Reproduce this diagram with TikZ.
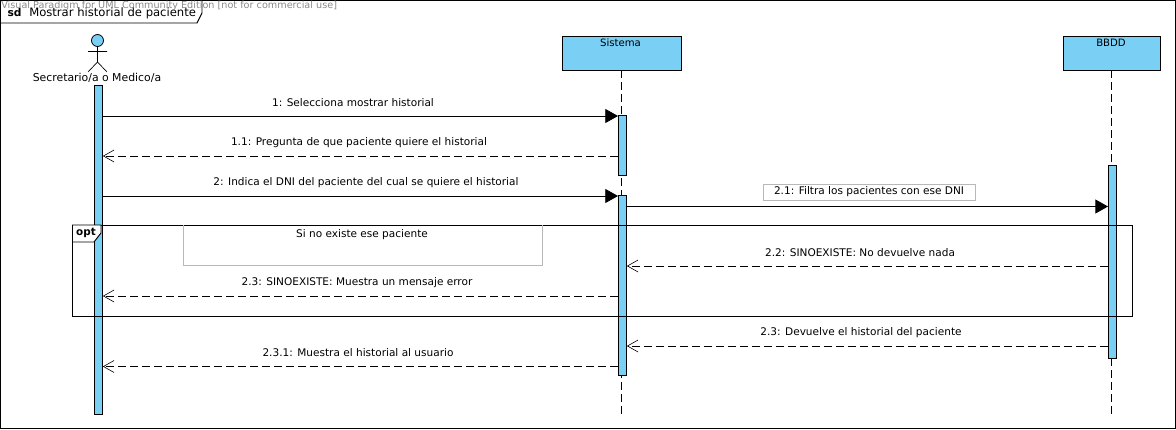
\documentclass[tikz,border=0pt]{standalone}
\usepackage{fontspec}
\setmainfont{DejaVu Sans}
\usepackage{xcolor}
\usetikzlibrary{arrows.meta,positioning}
\definecolor{umlblue}{HTML}{7ACFF5}
\definecolor{umlgray}{HTML}{B8B8B8}
\definecolor{markgray}{HTML}{8A8A8A}
\tikzset{
	lifehead/.style={rectangle,draw,fill=umlblue,line width=0.6pt,anchor=north west,inner sep=0pt},
	activation/.style={rectangle,draw,fill=umlblue,line width=0.6pt,anchor=north west,inner sep=0pt,minimum width=6pt},
	lifeline/.style={draw,line width=0.6pt,dash pattern=on 6pt off 3pt},
	msgtext/.style={font=\fontsize{7.9}{9}\selectfont,inner sep=0pt},
	syncmsg/.style={line width=0.6pt,-{Triangle[length=9.5pt,width=10.5pt]}},
	replymsg/.style={line width=0.6pt,dash pattern=on 6pt off 3pt,-{Straight Barb[length=8pt,width=9pt,line width=0.45pt]}},
}
\begin{document}
\begin{tikzpicture}[x=0.75pt,y=-0.75pt]
	\useasboundingbox (0,0) rectangle (1176,429);
	\draw[line width=0.7pt] (0.5,0.5) rectangle (1175.5,428.5);
	% lifelines
	\node[lifehead,minimum width=89.25pt,minimum height=25.5pt] (sistema) at (562,35.5) {};
	\node[lifehead,minimum width=72.75pt,minimum height=25.5pt] (bbdd) at (1063,35.5) {};
	\node[msgtext,font=\fontsize{7.6}{9}\selectfont] (sistemat) at (620.5,43) {Sistema};
	\node[msgtext,font=\fontsize{7.6}{9}\selectfont] (bbddt) at (1111,43) {BBDD};
	\coordinate (sistemaend) at (621.5,415);
	\coordinate (bbddend) at (1111.5,415);
	\draw[lifeline] (sistema.south -| sistemaend) -- (sistemaend);
	\draw[lifeline] (bbdd.south -| bbddend) -- (bbddend);
	% actor
	\node[circle,draw,fill=umlblue,line width=0.6pt,minimum size=9pt,inner sep=0pt] (head) at (97.5,40.5) {};
	\coordinate (hip) at (97.5,62);
	\coordinate (armL) at (88,51.5);
	\coordinate (armR) at (107,51.5);
	\coordinate (legL) at (88,72);
	\coordinate (legR) at (107,72);
	\draw[line width=0.5pt] (head) -- (hip) (armL) -- (armR) (legL) -- (hip) -- (legR);
	\node[msgtext,font=\fontsize{8.15}{9}\selectfont] (actort) at (97,78) {Secretario/a o Medico/a};
	% activations
	\node[activation,minimum height=247pt] (act1) at (94,84.5) {};
	\node[activation,minimum height=45pt] (sis1) at (618,115) {};
	\node[activation,minimum height=135pt] (sis2) at (618,195) {};
	\node[activation,minimum height=144.75pt] (bd1) at (1108,165) {};
	% frames
	\draw[line width=0.7pt] (0.5,0.5) -- (202,0.5) -- (202,13) -- (197,23) -- (0.5,23);
	\node[font=\fontsize{8}{9}\selectfont\bfseries,inner sep=0pt] (sdt) at (14.5,13) {sd};
	\node[font=\fontsize{8.7}{9}\selectfont,inner sep=0pt,anchor=west] (sdname) at (29,13) {Mostrar historial de paciente};
	\node[font=\fontsize{7.25}{9}\selectfont,inner sep=0pt,anchor=west,text=markgray] (mark) at (1,6) {Visual Paradigm for UML Community Edition [not for commercial use]};
	\draw[line width=0.7pt] (72.5,225) rectangle (1132.5,316);
	\draw[line width=0.7pt,fill=white] (72.5,225) -- (101,225) -- (101,233) -- (94,242) -- (72.5,242) -- cycle;
	\node[font=\fontsize{7.8}{9}\selectfont\bfseries,inner sep=0pt] (optt) at (86,233) {opt};
	\draw[umlgray,line width=0.6pt] (183,225) -- (183,265) -- (542,265) -- (542,225);
	\node[msgtext] (guard) at (362,235) {Si no existe ese paciente};
	% message rows
	\coordinate (y1) at (0,116);
	\coordinate (y2) at (0,156);
	\coordinate (y3) at (0,196);
	\coordinate (y4) at (0,206.5);
	\coordinate (y5) at (0,266);
	\coordinate (y6) at (0,296);
	\coordinate (y7) at (0,346);
	\coordinate (y8) at (0,366.5);
	\draw[syncmsg] (act1.east |- y1) -- (sis1.west |- y1);
	\draw[replymsg] (sis1.west |- y2) -- (act1.east |- y2);
	\draw[syncmsg] (act1.east |- y3) -- (sis2.west |- y3);
	\draw[syncmsg] (sis2.east |- y4) -- (bd1.west |- y4);
	\draw[replymsg] (bd1.west |- y5) -- (sis2.east |- y5);
	\draw[replymsg] (sis2.west |- y6) -- (act1.east |- y6);
	\draw[replymsg] (bd1.west |- y7) -- (sis2.east |- y7);
	\draw[replymsg] (sis2.west |- y8) -- (act1.east |- y8);
	% message labels
	\begin{scope}[every node/.style={msgtext}]
		\node (l1) at (353,103) {1: Selecciona mostrar historial};
		\node (l2) at (359,143) {1.1: Pregunta de que paciente quiere el historial};
		\node (l3) at (366,183) {2: Indica el DNI del paciente del cual se quiere el historial};
		\node[draw=umlgray,line width=0.5pt,minimum width=159pt,minimum height=12pt] (l4) at (869,192) {2.1: Filtra los pacientes con ese DNI};
		\node (l5) at (860,253) {2.2: SINOEXISTE: No devuelve nada};
		\node (l6) at (357,283) {2.3: SINOEXISTE: Muestra un mensaje error};
		\node (l7) at (861,333) {2.3: Devuelve el historial del paciente};
		\node (l8) at (358,353) {2.3.1: Muestra el historial al usuario};
	\end{scope}
\end{tikzpicture}
\end{document}
